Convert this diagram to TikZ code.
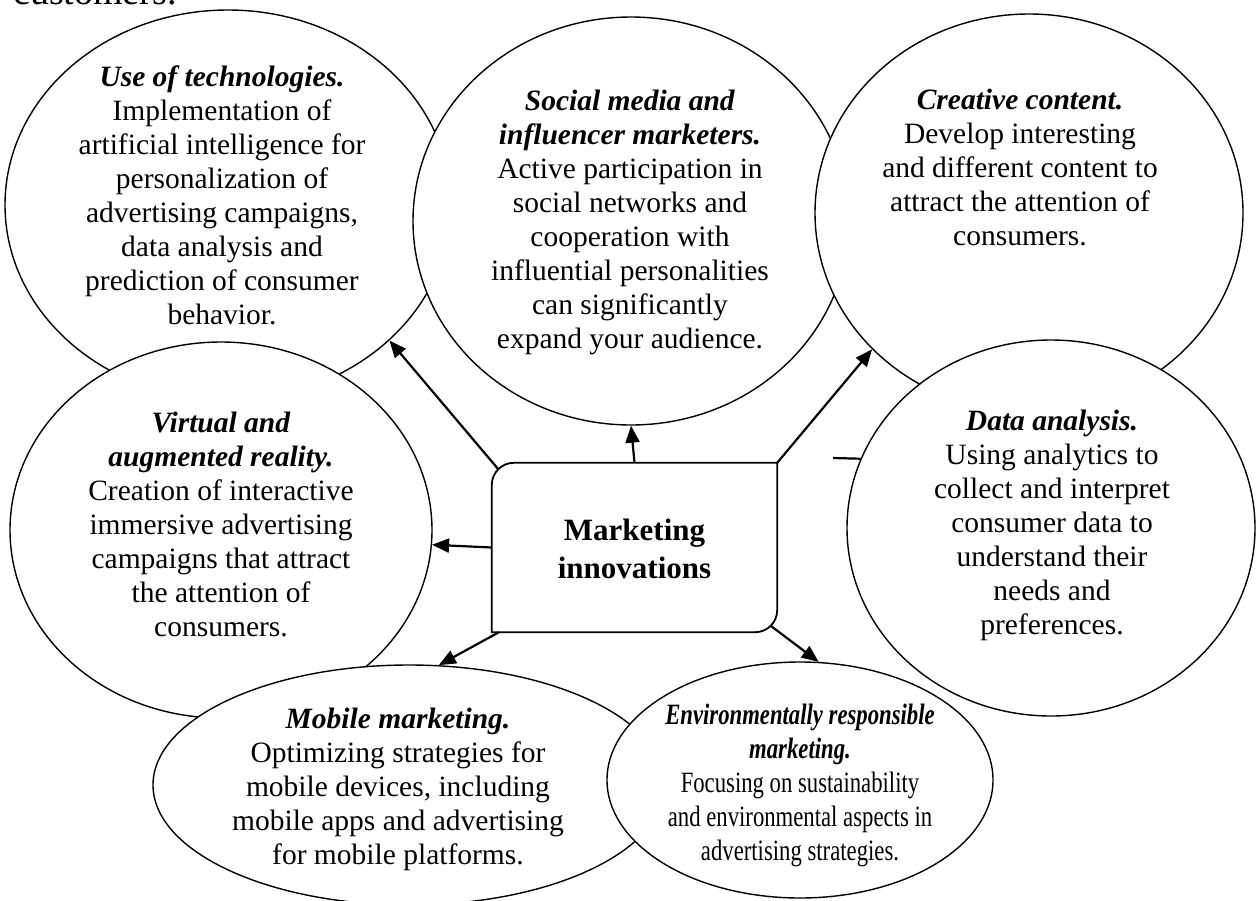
\documentclass[tikz,border=0pt]{standalone}
\usepackage{fontspec}
\setmainfont{Liberation Serif}
\usetikzlibrary{shapes.geometric,arrows.meta,calc}

\newcommand{\head}[1]{\textbf{\textit{#1}}}
\newcommand{\narrow}[1]{\scalebox{0.77}[1]{#1}}

\begin{document}
\begin{tikzpicture}[x=1pt,y=-1pt,
  bubble/.style={ellipse,draw,line width=1.4pt,fill=white,inner sep=0pt},
  txt/.style={align=center,inner sep=0pt,font=\fontsize{29.5}{34}\selectfont},
  arr/.style={line width=2.2pt,-{Triangle[length=17pt,width=14pt]}}]
  \useasboundingbox (0,0) rectangle (1256,900);
  \node[txt,anchor=base west,font=\fontsize{38}{44}\selectfont] (prev) at (13,4) {customers.};

  % circles, back to front
  \node[bubble,minimum width=446,minimum height=390] (tech) at (228,205) {};
  \node[txt] (techtxt) at (222,195) {\head{Use of technologies.}\\ Implementation of\\
    artificial intelligence for\\ personalization of\\ advertising campaigns,\\
    data analysis and\\ prediction of consumer\\ behavior.};
  \node[bubble,minimum width=436,minimum height=408] (social) at (631,221) {};
  \node[txt] (socialtxt) at (630,222) {\head{Social media and}\\ \head{influencer marketers.}\\
    Active participation in\\ social networks and\\ cooperation with\\
    influential personalities\\ can significantly\\ expand your audience.};
  \node[bubble,minimum width=428,minimum height=398] (creative) at (1029,213) {};
  \node[txt] (creativetxt) at (1020,167) {\head{Creative content.}\\ Develop interesting\\
    and different content to\\ attract the attention of\\ consumers.};
  \node[bubble,minimum width=422,minimum height=376] (virtual) at (221,530) {};
  \node[txt] (virtualtxt) at (221,524) {\head{Virtual and}\\ \head{augmented reality.}\\
    Creation of interactive\\ immersive advertising\\ campaigns that attract\\
    the attention of\\ consumers.};
  \node[bubble,minimum width=408,minimum height=376] (data) at (1051,528) {};
  \node[txt] (datatxt) at (1052,525) {\head{Data analysis.}\\ Using analytics to\\
    collect and interpret\\ consumer data to\\ understand their\\ needs and\\ preferences.};
  \node[bubble,minimum width=512,minimum height=240] (mobile) at (409,785) {};
  \node[txt] (mobiletxt) at (398,789) {\head{Mobile marketing.}\\ Optimizing strategies for\\
    mobile devices, including\\ mobile apps and advertising\\ for mobile platforms.};
  \node[bubble,minimum width=386,minimum height=236] (env) at (800,780) {};
  \node[txt] (envtxt) at (800,785) {\narrow{\head{Environmentally responsible}}\\
    \narrow{\head{marketing.}}\\ \narrow{Focusing on sustainability}\\
    \narrow{and environmental aspects in}\\ \narrow{advertising strategies.}};

  % central box
  \node[minimum width=285,minimum height=169,inner sep=0pt] (box) at (634.5,547.5) {};
  \draw[line width=1.8pt,fill=white] (box.west) [rounded corners=22] -- (box.north west) [sharp corners] -- (box.north east)
    [rounded corners=22] -- (box.south east) [sharp corners] -- (box.south west) -- cycle;
  \node[txt,font=\fontsize{31}{38}\selectfont\bfseries] (boxtxt) at (634.5,549) {Marketing\\ innovations};

  % arrows
  \draw[arr] ($(box.north west)+(7,7)$) -- (tech.-40);
  \draw[arr] (box.north) -- (social.south);
  \draw[arr] (box.north east) -- (creative.221);
  \coordinate (stub) at (833,458);
  \draw[line width=2.2pt] (stub) -- (data.160);
  \draw[arr] (box.west) -- (virtual.-4);
  \draw[arr] (box.-148) -- (mobile.76);
  \draw[arr] ($(box.south east)+(-6,-6)$) -- (env.81);
\end{tikzpicture}
\end{document}
